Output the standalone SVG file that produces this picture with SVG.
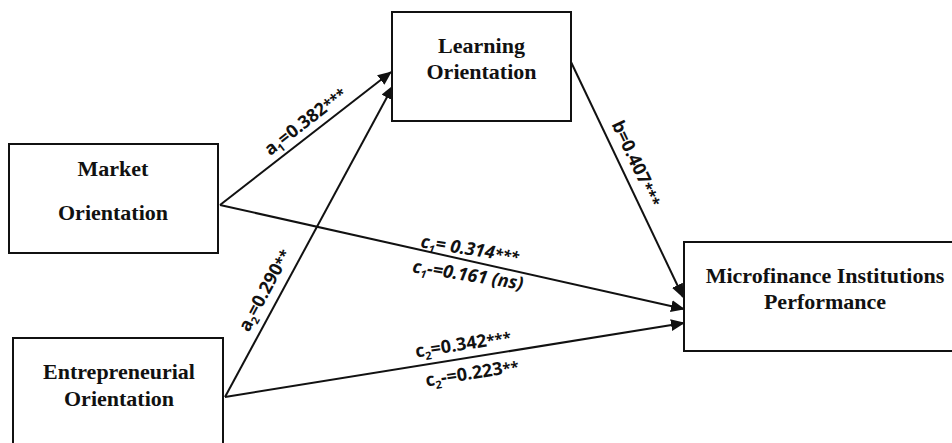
<svg xmlns="http://www.w3.org/2000/svg" width="952" height="443" viewBox="0 0 952 443">
<style>
.box{fill:#fff;stroke:#111;stroke-width:2}
.nt{font-family:"Liberation Serif","Times New Roman",serif;font-weight:bold;font-size:22px;fill:#111;text-anchor:middle}
.edge{stroke:#111;stroke-width:2;fill:none;marker-end:url(#ah)}
.lb{font-family:"Open Sans","Liberation Sans",sans-serif;font-weight:bold;font-size:18px;fill:#111;text-anchor:middle}
.it{font-style:italic}
.sub{font-size:11px}
.st{font-size:15px}
</style>
<defs>
<marker id="ah" markerUnits="userSpaceOnUse" markerWidth="14" markerHeight="12" refX="13" refY="6" orient="auto">
<path d="M0,0 L14,6 L0,12 z" fill="#111"/>
</marker>
</defs>
<g id="connectors">
<line class="edge" x1="220" y1="205" x2="391" y2="72"/>
<line class="edge" x1="225" y1="397" x2="393" y2="86"/>
<line class="edge" x1="220" y1="205" x2="684" y2="309"/>
<line class="edge" x1="225" y1="397" x2="684" y2="323"/>
<line class="edge" x1="571" y1="62" x2="683" y2="297"/>
<text class="lb" transform="translate(309,126) rotate(-38)">a<tspan class="sub" dy="4">1</tspan><tspan dy="-4">=0.382</tspan><tspan class="st">***</tspan></text>
<text class="lb" transform="translate(270,293) rotate(-61.8)">a<tspan class="sub" dy="4">2</tspan><tspan dy="-4">=0.290</tspan><tspan class="st">**</tspan></text>
<text class="lb" transform="translate(631,166) rotate(64.7)">b=0.407<tspan class="st">***</tspan></text>
<text class="lb it" transform="translate(469,255) rotate(9)">c<tspan class="sub" dy="4">1</tspan><tspan dy="-4">= 0.314</tspan><tspan class="st">***</tspan></text>
<text class="lb it" transform="translate(467,281) rotate(9)">c<tspan class="sub" dy="4">1</tspan><tspan dy="-4">-=0.161 (ns)</tspan></text>
<text class="lb" transform="translate(464,350) rotate(-9)">c<tspan class="sub" dy="4">2</tspan><tspan dy="-4">=0.342</tspan><tspan class="st">***</tspan></text>
<text class="lb" transform="translate(473,379) rotate(-9)">c<tspan class="sub" dy="4">2</tspan><tspan dy="-4">-=0.223</tspan><tspan class="st">**</tspan></text>
</g>
<g id="market">
<rect class="box" x="9" y="144" width="209" height="109"/>
<text class="nt" x="113" y="176">Market</text>
<text class="nt" x="113" y="220">Orientation</text>
</g>
<g id="entrepreneurial">
<rect class="box" x="13" y="338" width="210" height="120"/>
<text class="nt" x="119" y="379">Entrepreneurial</text>
<text class="nt" x="119" y="406">Orientation</text>
</g>
<g id="learning">
<rect class="box" x="392" y="12" width="179" height="109"/>
<text class="nt" x="481.5" y="53">Learning</text>
<text class="nt" x="481.5" y="79">Orientation</text>
</g>
<g id="performance">
<rect class="box" x="684" y="242" width="280" height="109"/>
<text class="nt" x="825" y="283">Microfinance Institutions</text>
<text class="nt" x="825" y="309">Performance</text>
</g>
</svg>
